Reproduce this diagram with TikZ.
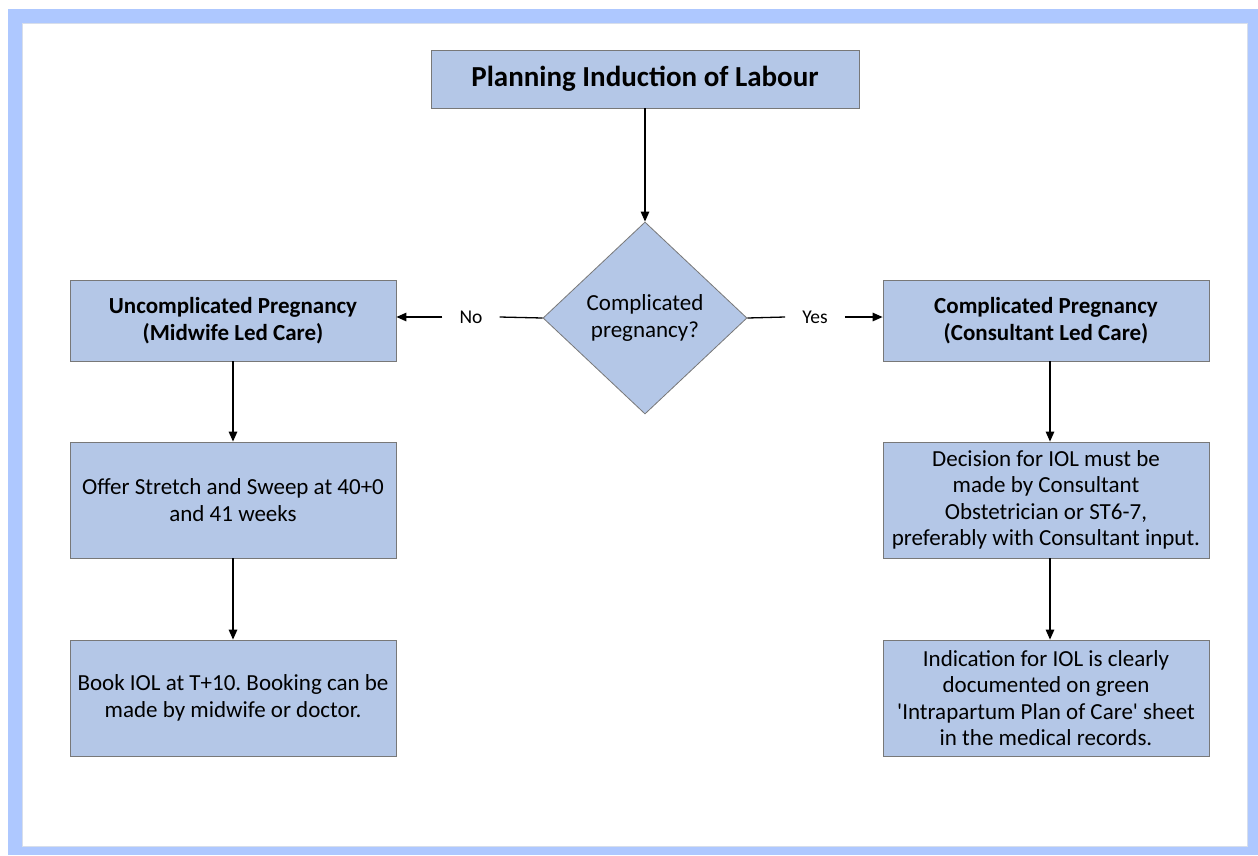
\documentclass[tikz,border=0pt]{standalone}
\usepackage{fontspec}
\setmainfont{Carlito}[Ligatures=TeXOff]
\frenchspacing
\usetikzlibrary{shapes.geometric,arrows.meta}
\definecolor{framebl}{RGB}{174,200,255}
\definecolor{boxbl}{RGB}{180,199,231}
\definecolor{boxln}{RGB}{120,120,120}
\tikzset{
  flowbox/.style={draw=boxln, line width=0.8pt, fill=boxbl, minimum width=326pt, align=center, inner sep=0pt, font=\fontsize{23}{26.3}\selectfont},
  headbox/.style={flowbox, minimum height=81pt, font=\bfseries\fontsize{23}{27}\selectfont},
  textbox/.style={flowbox, minimum height=116pt},
  decide/.style={diamond, draw=boxln, line width=0.8pt, fill=boxbl, minimum width=204pt, minimum height=192pt, inner sep=0pt, align=center, font=\fontsize{23}{27}\selectfont},
  lbl/.style={inner xsep=17pt, inner ysep=0pt, font=\fontsize{19.5}{22}\selectfont},
  conn/.style={line width=1.3pt, -{Triangle[length=10pt,width=8.5pt]}},
  plain/.style={line width=1.3pt}
}
\begin{document}
\begin{tikzpicture}[x=1pt,y=-1pt]
\useasboundingbox (0,0) rectangle (1258,855);
\fill[framebl] (8,9) rectangle (1258,855);
\draw[fill=white, draw={rgb,255:red,215;green,222;blue,235}, line width=0.8pt] (22,23) rectangle (1247,846);

\node[flowbox, minimum width=428pt, minimum height=58pt, font=\bfseries\fontsize{29}{32}\selectfont] (title) at (645,79) {\raisebox{-1pt}{Planning Induction of Labour}};
\node[decide] (dia) at (645,318) {Complicated\\pregnancy?};

\node[headbox] (lb1) at (233,320.5) {Uncomplicated Pregnancy\\(Midwife Led Care)};
\node[textbox] (lb2) at (233,500) {Offer Stretch and Sweep at 40+0\\and 41 weeks};
\node[textbox] (lb3) at (233,698) {Book IOL at T+10. Booking can be\\made by midwife or doctor.};

\node[headbox] (rb1) at (1046,320.5) {Complicated Pregnancy\\(Consultant Led Care)};
\node[textbox] (rb2) at (1046,500) {Decision for IOL must be\\made by Consultant\\Obstetrician or ST6-7,\\preferably with Consultant input.};
\node[textbox] (rb3) at (1046,698) {Indication for IOL is clearly\\documented on green\\'Intrapartum Plan of Care' sheet\\in the medical records.};

\node[lbl] (no) at (471,317) {No};
\node[lbl] (yes) at (815,317) {Yes};

\draw[conn] (title.south) -- (dia.north);
\draw[plain] (dia.west) -- (no.east);
\draw[conn] (no.west) -- (no.west -| lb1.east);
\draw[plain] (dia.east) -- (yes.west);
\draw[conn] (yes.east) -- (yes.east -| rb1.west);

\draw[conn] (lb1.south) -- (lb2.north);
\draw[conn] (lb2.south) -- (lb3.north);
\draw[conn] ([xshift=4pt]rb1.south) -- ([xshift=4pt]rb2.north);
\draw[conn] ([xshift=4pt]rb2.south) -- ([xshift=4pt]rb3.north);
\end{tikzpicture}
\end{document}
